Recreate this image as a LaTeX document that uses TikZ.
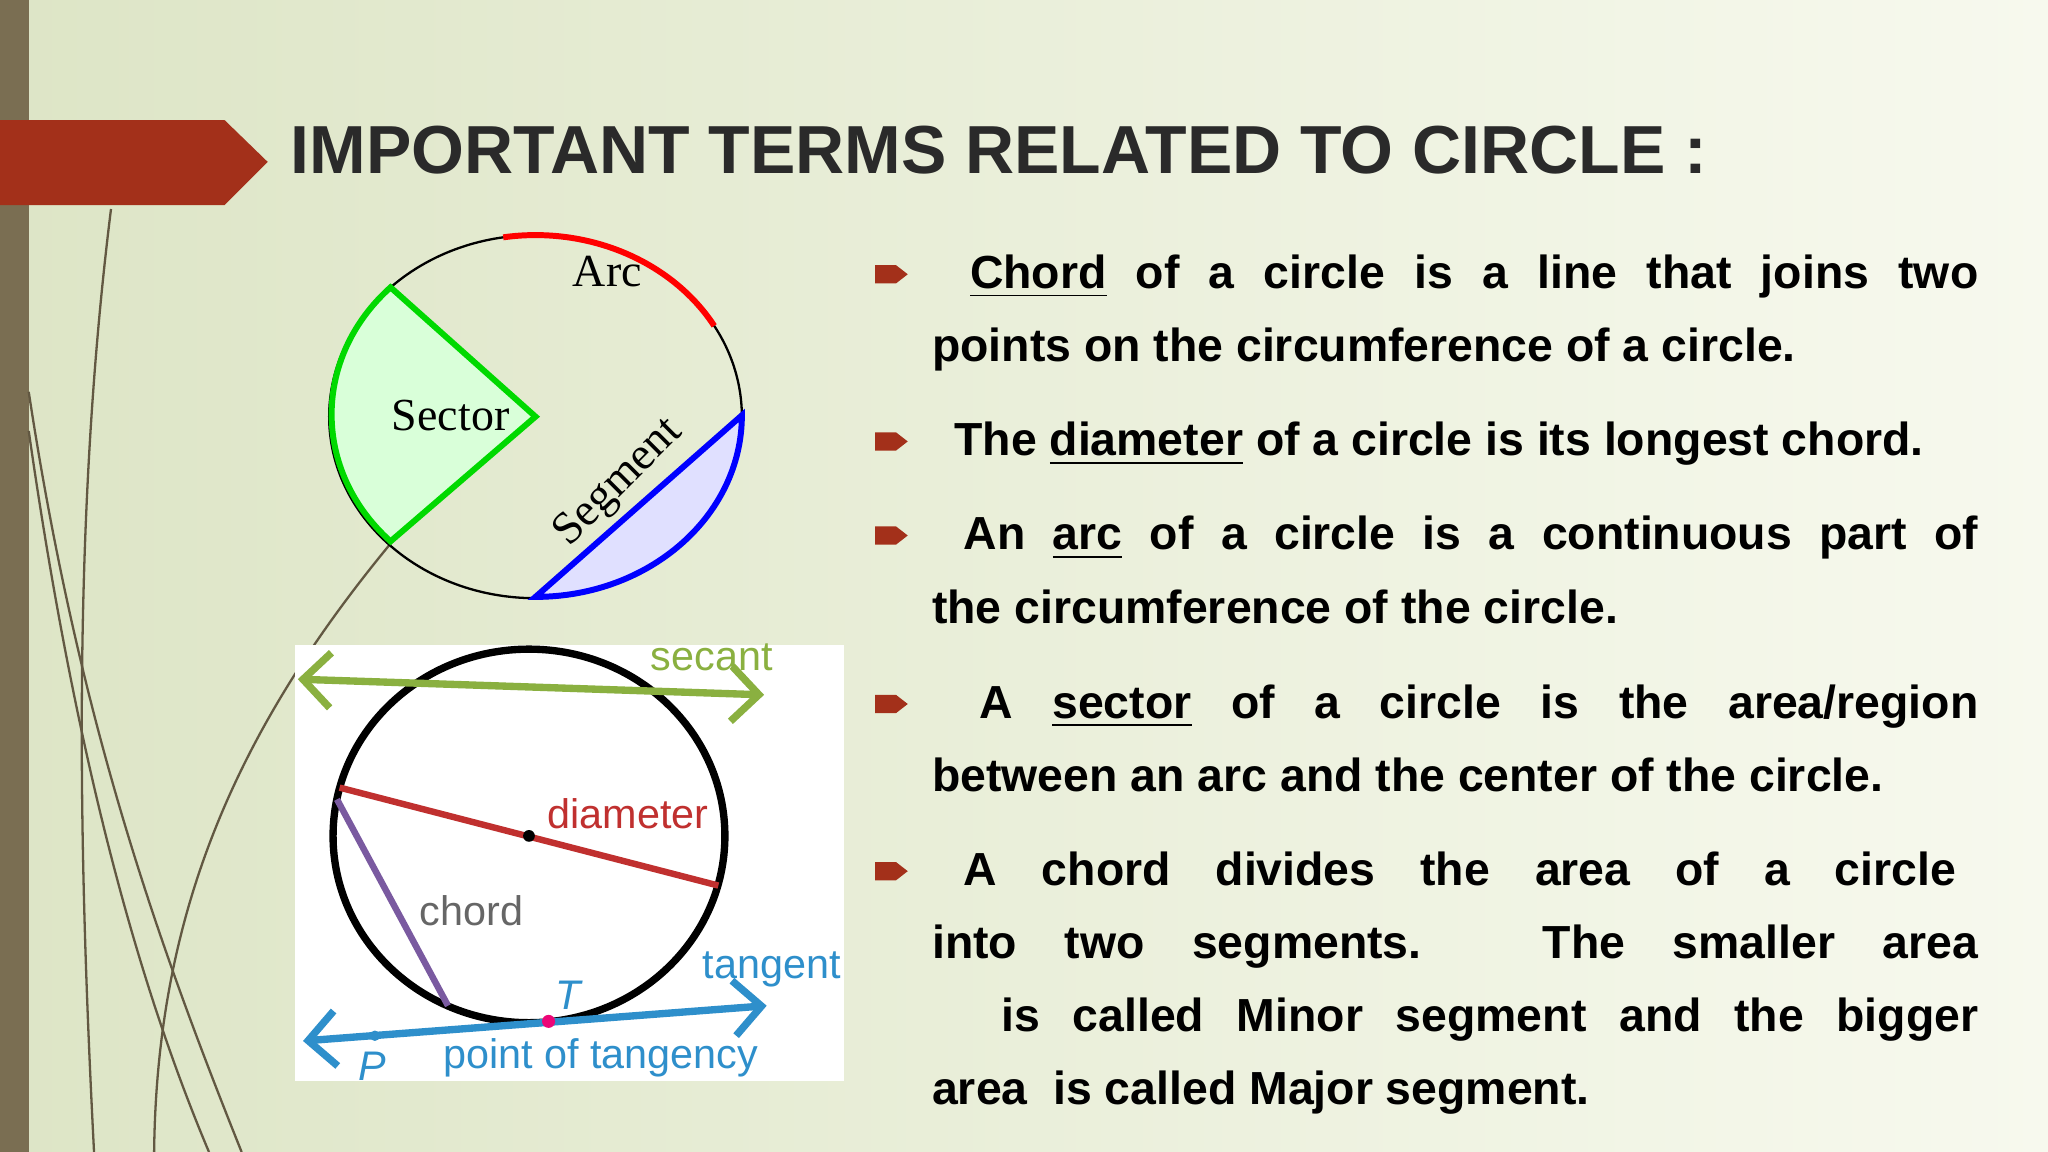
\documentclass[tikz,border=0pt]{standalone}
\usepackage{fontspec}
\setmainfont{Liberation Sans}
\newfontfamily\serf{Liberation Serif}
\usetikzlibrary{arrows.meta}
\definecolor{bgA}{HTML}{DDE5C6}
\definecolor{bgB}{HTML}{F7F9EE}
\definecolor{olive}{HTML}{7A6E52}
\definecolor{rust}{HTML}{A3301A}
\definecolor{ttl}{HTML}{2A2A2A}
\definecolor{secg}{HTML}{8AB040}
\definecolor{dred}{HTML}{C0302F}
\definecolor{purp}{HTML}{7A5AA0}
\definecolor{tblue}{HTML}{2E8FCB}
\begin{document}
\begin{tikzpicture}[x=0.01cm,y=-0.01cm,
  body/.style={anchor=base west,inner sep=0,font=\fontsize{10.1}{12}\selectfont\bfseries,text=black},
  bul/.style={fill=rust,draw=none},
  lbl/.style={inner sep=0,font=\fontsize{9}{11}\selectfont},
  serl/.style={inner sep=0,font=\serf\fontsize{10}{12}\selectfont},
  deco/.style={draw=olive!80!black,line width=0.5pt}]
\useasboundingbox (0,0) rectangle (1568,882);
\shade[left color=bgA,right color=bgB] (0,0) rectangle (1568,882);
\fill[olive] (0,0) rectangle (22,882);
% deco curves
\draw[deco] (85,160) .. controls (55,400) and (60,650) .. (72,882);
\draw[deco] (22,300) .. controls (60,550) and (120,720) .. (185,882);
\draw[deco] (22,330) .. controls (55,560) and (100,740) .. (160,882);
\draw[deco] (300,415) .. controls (180,560) and (120,700) .. (118,882);
% title arrow
\fill[rust] (0,92) -- (172,92) -- (205,124) -- (172,157) -- (0,157) -- cycle;
\node[anchor=base west,inner sep=0,font=\fontsize{14.8}{17}\selectfont\bfseries,text=ttl] (title) at (222,133) {IMPORTANT TERMS RELATED TO CIRCLE :};
% top circle
\coordinate (c1) at (410,319);
\fill[green!15] (410,319) -- (299,220) arc[start angle=224.4,end angle=135.6,x radius=158,y radius=139] -- cycle;
\fill[blue!12] (410,457) arc[start angle=90,end angle=0,x radius=158,y radius=139] -- cycle;
\draw[black,line width=0.5pt] (c1) ellipse [x radius=158,y radius=139];
\draw[green!85!black,line width=1.3pt] (410,319) -- (299,220) arc[start angle=224.4,end angle=135.6,x radius=158,y radius=139] -- cycle;
\draw[blue,line width=1.3pt] (410,457) arc[start angle=90,end angle=0,x radius=158,y radius=139] -- cycle;
\draw[red,line width=1.3pt] (c1) ++(261:158 and 139) arc[start angle=261,end angle=330,x radius=158,y radius=139];
\node[serl] (arc) at (465,208) {Arc};
\node[serl] (sector) at (345,318) {Sector};
\node[serl,rotate=45] (segment) at (474,370) {Segment};
% bottom picture
\fill[white] (226,494) rectangle (646,828);
\coordinate (c2) at (405,640);
\draw[black,line width=1.6pt] (c2) ellipse [x radius=150,y radius=143];
\coordinate (s1) at (228,520); \coordinate (s2) at (585,532);
\draw[secg,line width=1.6pt,{Straight Barb[length=6pt]}-{Straight Barb[length=6pt]}] (s1) -- (s2);
\node[lbl,text=secg] (secant) at (545,503) {secant};
\coordinate (d1) at (260,603); \coordinate (d2) at (550,678);
\draw[dred,line width=1.4pt] (d1) -- (d2);
\fill[black] (c2) circle (4.5);
\node[lbl,text=dred] (diameter) at (481,623) {diameter};
\coordinate (h1) at (258,612); \coordinate (h2) at (343,770);
\draw[purp,line width=1.4pt] (h1) -- (h2);
\node[lbl,text=black!60] (chord) at (361,697) {chord};
\coordinate (t1) at (232,797); \coordinate (t2) at (587,770);
\draw[tblue,line width=1.6pt,{Straight Barb[length=6pt]}-{Straight Barb[length=6pt]}] (t1) -- (t2);
\coordinate (T) at (420,782); \coordinate (P) at (287,793);
\fill[magenta!80!red] (T) circle (5);
\fill[tblue] (P) circle (4);
\node[lbl,text=tblue] (tangent) at (591,742) {tangent};
\node[lbl,text=tblue,font=\fontsize{9}{11}\selectfont\itshape] (Tl) at (435,762) {T};
\node[lbl,text=tblue,font=\fontsize{9}{11}\selectfont\itshape] (Pl) at (285,816) {P};
\node[lbl,text=tblue] (pot) at (460,810) {point of tangency};
% bullets
\foreach \y in {210,338,410,539,667}{\fill[bul] (670,\y-7) -- (686,\y-7) -- (695,\y) -- (686,\y+7) -- (670,\y+7) -- cycle;}
\node[body] (l1) at (742,221) {\makebox[772\dimexpr0.01cm][s]{\underline{Chord} of a circle is a line that joins two}};
\node[body] (l2) at (713,277) {points on the circumference of a circle.};
\node[body] (l3) at (730,349) {The \underline{diameter} of a circle is its longest chord.};
\node[body] (l4) at (737,421) {\makebox[777\dimexpr0.01cm][s]{An \underline{arc} of a circle is a continuous part of}};
\node[body] (l5) at (713,477) {the circumference of the circle.};
\node[body] (l6) at (749,550) {\makebox[765\dimexpr0.01cm][s]{A \underline{sector} of a circle is the area/region}};
\node[body] (l7) at (713,606) {between an arc and the center of the circle.};
\node[body] (l8) at (737,678) {\makebox[760\dimexpr0.01cm][s]{A chord divides the area of a circle}};
\node[body] (l9) at (713,734) {\makebox[801\dimexpr0.01cm][s]{into two segments. The smaller area}};
\node[body] (l10) at (766,790) {\makebox[748\dimexpr0.01cm][s]{is called Minor segment and the bigger}};
\node[body] (l11) at (713,846) {area\ \ is called Major segment.};
\end{tikzpicture}
\end{document}
